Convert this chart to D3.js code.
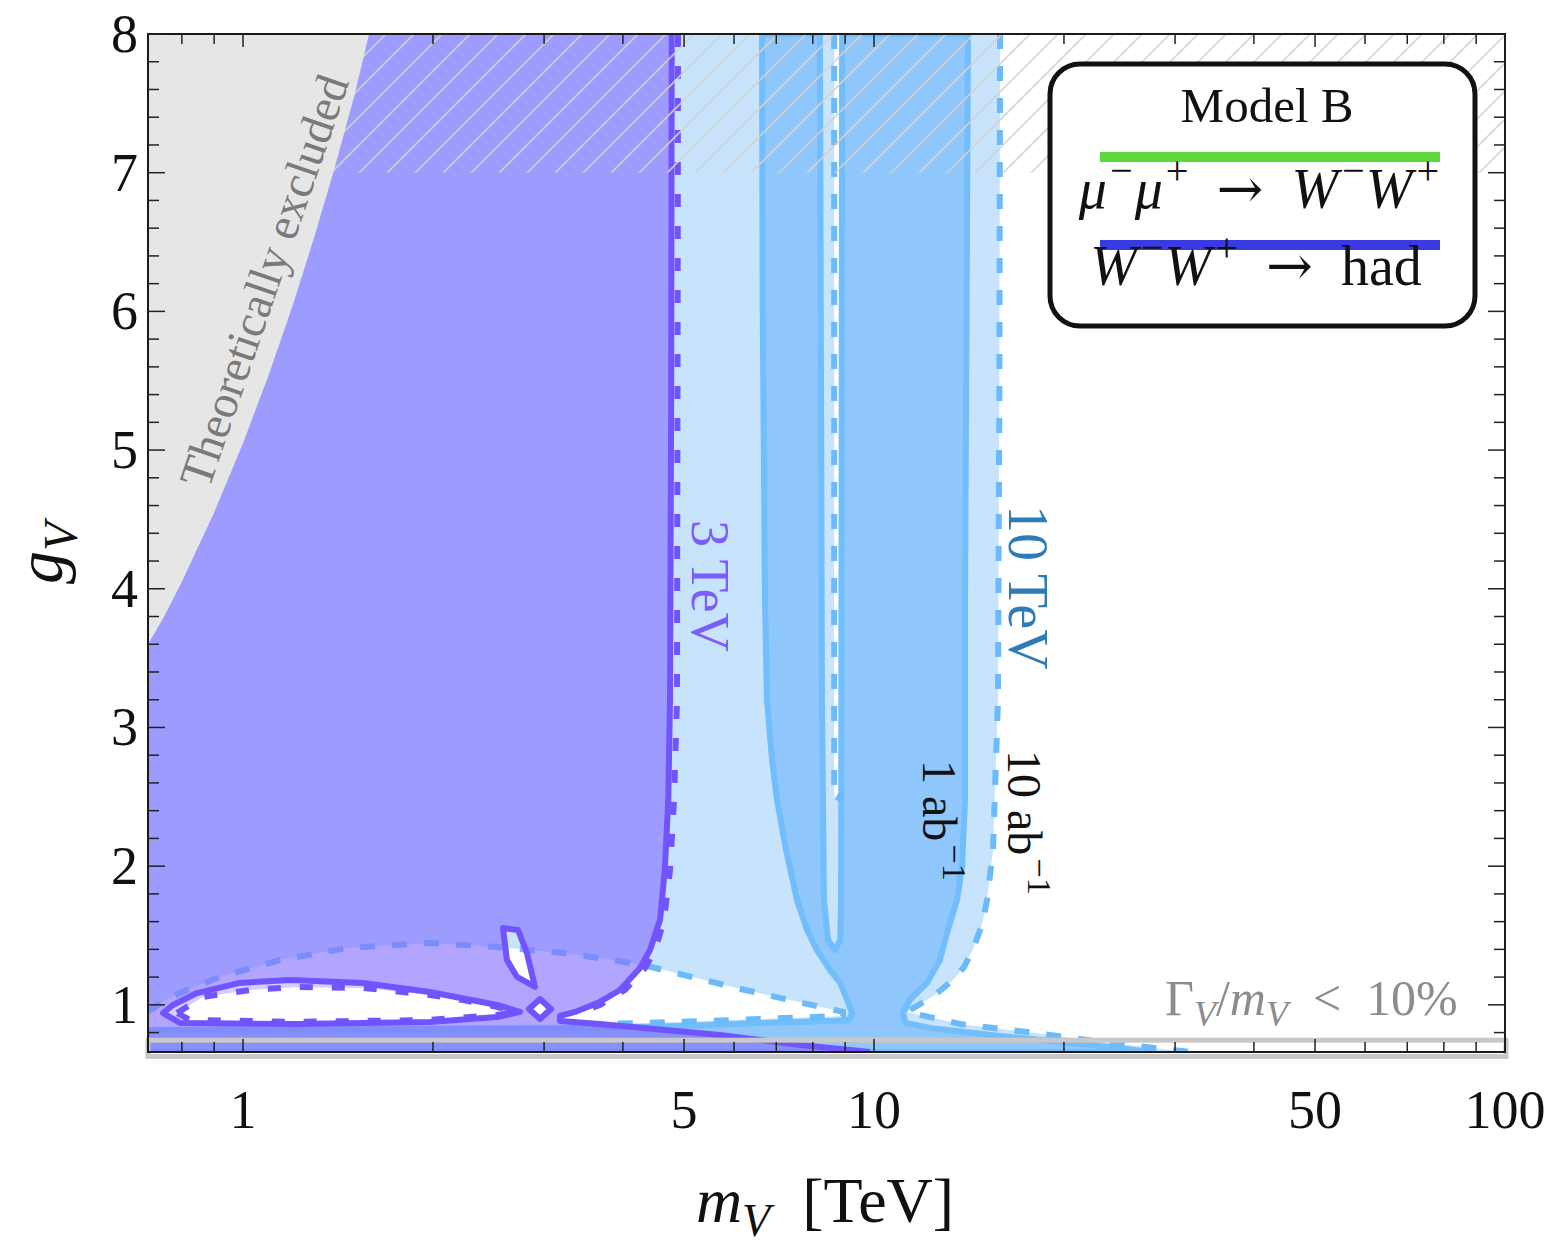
<!DOCTYPE html>
<html>
<head>
<meta charset="utf-8">
<script src="https://cdn.jsdelivr.net/npm/d3@7"></script>
<style>
  body { margin: 0; background: #fff; }
  svg { display: block; }
  text { font-family: "Liberation Serif", "DejaVu Serif", serif; }
</style>
</head>
<body>
<div id="chart"></div>
<script>
// ---- axes ----
const xDomain = [0.707, 100];
const yDomain = [0.66, 8];
const xMajorTicks = [1, 5, 10, 50, 100];
const xMinorTicks = [0.8, 0.9, 2, 3, 4, 6, 7, 8, 9, 20, 30, 40, 60, 70, 80, 90];
const yMajorTicks = [1, 2, 3, 4, 5, 6, 7, 8];
const hatchBand = [7, 8];          // g_V range with hatching
const widthLimit = 0.745;          // Gamma_V / m_V < 10% line

// ---- regions, [m_V (TeV), g_V] ----
const theoryEdge = [[0.707, 3.60], [0.75, 3.80], [0.80, 4.05], [0.90, 4.55], [1.00, 5.05], [1.10, 5.55],
  [1.20, 6.05], [1.30, 6.55], [1.40, 7.05], [1.50, 7.55], [1.584, 8.0]];

// 10 TeV, 10 ab^-1 (light blue)
const lb10Region = [[0.707, 8], [8.648, 8], [8.648, 2.50], [8.866, 2.50], [8.866, 8], [15.84, 8],
  [15.80, 5.36], [15.72, 3.20], [15.44, 2.12], [15.11, 1.76], [14.83, 1.576], [14.35, 1.40], [13.89, 1.273],
  [13.34, 1.18], [12.72, 1.10], [12.13, 1.035], [11.28, 0.949],
  [13.69, 0.862], [17.99, 0.797], [23.66, 0.725], [31.7, 0.66],
  [0.707, 0.66], [0.707, 0.840],
  [1.773, 0.848], [3.678, 0.862], [4.927, 0.877], [6.597, 0.898], [8.93, 0.920],
  [8.93, 0.949], [6.244, 1.107], [4.367, 1.280], [3.858, 1.323], [3.215, 1.374], [2.526, 1.417], [1.978, 1.446],
  [1.461, 1.410], [1.145, 1.323], [0.919, 1.201], [0.815, 1.107], [0.752, 1.035], [0.707, 0.949]];
const lbDashSlit = [[8.648, 8], [8.648, 2.52], [8.757, 2.47], [8.866, 2.52]];
const lbDashRight = [[15.84, 8], [15.80, 5.36], [15.72, 3.20], [15.44, 2.12], [15.11, 1.76], [14.83, 1.576],
  [14.35, 1.40], [13.89, 1.273], [13.34, 1.18], [12.72, 1.10], [12.13, 1.035], [11.28, 0.949],
  [13.69, 0.862], [17.99, 0.797], [23.66, 0.725], [31.7, 0.66]];
const lbDashLow = [[0.707, 0.949], [0.752, 1.035], [0.815, 1.107], [0.919, 1.201], [1.145, 1.323], [1.461, 1.410],
  [1.978, 1.446], [2.526, 1.417], [3.215, 1.374], [3.858, 1.323], [4.367, 1.280], [6.244, 1.107], [8.93, 0.949],
  [8.93, 0.920], [6.597, 0.898], [4.927, 0.877], [3.678, 0.862]];

// 10 TeV, 1 ab^-1 (medium blue)
const mb1Region = [[6.645, 8], [8.21, 8], [8.27, 3.20], [8.33, 1.756], [8.455, 1.468], [8.675, 1.395], [8.84, 1.468],
  [8.87, 1.756], [8.90, 8], [14.09, 8],
  [13.94, 3.919], [13.94, 2.477], [13.79, 1.994], [13.54, 1.756], [13.05, 1.518], [12.72, 1.323], [12.13, 1.158],
  [11.40, 1.035], [11.11, 0.941], [11.24, 0.869],
  [12.27, 0.833], [15.84, 0.776], [23.66, 0.696], [27.38, 0.66],
  [0.707, 0.66], [0.707, 0.819], [3.678, 0.833], [4.927, 0.848], [6.597, 0.869], [8.70, 0.885], [9.129, 0.891],
  [9.228, 0.941], [9.065, 1.035], [8.84, 1.158], [8.516, 1.251], [8.122, 1.395], [7.831, 1.540], [7.55, 1.756],
  [7.253, 2.117], [7.019, 2.477], [6.892, 2.765], [6.767, 3.198], [6.718, 3.919], [6.66, 6.08]];

// 3 TeV, 1 ab^-1 (purple) and its holes
const p3Region = [[0.707, 8], [4.78, 8], [4.77, 5.36], [4.75, 3.198], [4.72, 2.477], [4.66, 1.972], [4.58, 1.612],
  [4.415, 1.395], [4.257, 1.266], [3.958, 1.107], [3.678, 1.021], [3.359, 0.949], [3.179, 0.920], [3.18, 0.884],
  [3.678, 0.862], [5.70, 0.783], [7.63, 0.711], [9.86, 0.66], [0.707, 0.66]];
const p3Loop = [[0.7468, 0.941], [0.7745, 0.999], [0.8454, 1.085], [0.989, 1.158], [1.187, 1.179], [1.549, 1.158],
  [1.978, 1.093], [2.526, 0.999], [2.748, 0.949], [2.526, 0.912], [1.978, 0.877], [1.218, 0.862], [0.795, 0.869]];
const p3Diamond = [[2.955, 1.042], [3.076, 0.970], [2.955, 0.898], [2.839, 0.970]];
const p3Sliver = [[2.582, 1.554], [2.728, 1.540], [2.818, 1.374], [2.902, 1.129], [2.718, 1.201], [2.620, 1.323]];
// 3 TeV, 10 ab^-1 (dashed purple)
const p3DashEdge = [[4.891, 8], [4.873, 3.198], [4.82, 2.477], [4.75, 1.972], [4.647, 1.612], [4.498, 1.395],
  [4.336, 1.266], [4.03, 1.107], [3.678, 0.999], [3.359, 0.934]];
const p3LoopDash = [[0.786, 0.941], [0.864, 1.057], [1.026, 1.107], [1.218, 1.129], [1.549, 1.122], [1.978, 1.071],
  [2.231, 1.035], [2.526, 0.985], [2.698, 0.949], [2.526, 0.927], [1.978, 0.891], [1.218, 0.877], [0.824, 0.891]];

// ---- canvas ----
const W = 1553, H = 1251;
const plotBox = { left: 148, right: 1505, top: 34, bottom: 1052 };

const svg = d3.select("#chart").append("svg").attr("width", W).attr("height", H);

const x = d3.scaleLog().domain(xDomain).range([plotBox.left, plotBox.right]);
const y = d3.scaleLinear().domain(yDomain).range([plotBox.bottom, plotBox.top]);

const line = d3.line().x(d => x(d[0])).y(d => y(d[1]));
const ring = pts => line(pts) + "Z";

const defs = svg.append("defs");
defs.append("clipPath").attr("id", "plot-clip").append("rect")
  .attr("x", plotBox.left).attr("y", plotBox.top)
  .attr("width", plotBox.right - plotBox.left).attr("height", plotBox.bottom - plotBox.top);

const hatch = defs.append("pattern").attr("id", "hatch")
  .attr("patternUnits", "userSpaceOnUse").attr("width", 28).attr("height", 28);
hatch.append("path")
  .attr("d", "M-7,7 L7,-7 M0,28 L28,0 M21,35 L35,21")
  .attr("stroke", "#d2d2d2").attr("stroke-width", 1.7).attr("stroke-opacity", 0.9);

const plot = svg.append("g").attr("clip-path", "url(#plot-clip)");

// light blue: 10 TeV, 10 ab^-1
plot.append("path").attr("d", ring(lb10Region)).attr("fill", "#c8e4fc");

// medium blue: 10 TeV, 1 ab^-1
plot.append("path").attr("d", ring(mb1Region))
  .attr("fill", "#8fc7fc").attr("stroke", "#72bdfc").attr("stroke-width", 6).attr("stroke-linejoin", "round");

// dashed light-blue contours
[lbDashSlit, lbDashRight, lbDashLow].forEach(pts => {
  plot.append("path").attr("d", line(pts)).attr("fill", "none")
    .attr("stroke", "#6cbaf9").attr("stroke-width", 6).attr("stroke-dasharray", "15,17");
});

// purple: 3 TeV, 1 ab^-1
const purpleFill = "rgba(132,113,255,0.63)";
const purpleLine = "#7254ff";
plot.append("path")
  .attr("d", ring(p3Region) + ring(p3Loop) + ring(p3Diamond) + ring(p3Sliver))
  .attr("fill-rule", "evenodd").attr("fill", purpleFill);
plot.append("path")
  .attr("d", ring(p3Loop) + ring(p3LoopDash))
  .attr("fill-rule", "evenodd").attr("fill", "rgba(132,113,255,0.35)");

[line(p3Region.slice(1, -1)), ring(p3Loop), ring(p3Diamond), ring(p3Sliver)].forEach(d => {
  plot.append("path").attr("d", d).attr("fill", "none")
    .attr("stroke", purpleLine).attr("stroke-width", 6).attr("stroke-linejoin", "round");
});
[line(p3DashEdge), ring(p3LoopDash)].forEach(d => {
  plot.append("path").attr("d", d).attr("fill", "none")
    .attr("stroke", purpleLine).attr("stroke-width", 6).attr("stroke-dasharray", "13,19");
});

// hatched band g_V > 7
plot.append("rect")
  .attr("x", x(xDomain[0])).attr("y", y(hatchBand[1]))
  .attr("width", x(xDomain[1]) - x(xDomain[0])).attr("height", y(hatchBand[0]) - y(hatchBand[1]))
  .attr("fill", "url(#hatch)");

// theoretically excluded
plot.append("path")
  .attr("d", ring(theoryEdge.concat([[xDomain[0], yDomain[1]]])))
  .attr("fill", "#e6e6e6");

// width limit band
svg.append("rect")
  .attr("x", plotBox.left).attr("y", y(widthLimit))
  .attr("width", plotBox.right - plotBox.left + 1).attr("height", plotBox.bottom + 4.5 - y(widthLimit))
  .attr("fill", "none").attr("stroke", "#c8c8c8").attr("stroke-width", 5);

// frame
svg.append("rect")
  .attr("x", plotBox.left).attr("y", plotBox.top)
  .attr("width", plotBox.right - plotBox.left).attr("height", plotBox.bottom - plotBox.top)
  .attr("fill", "none").attr("stroke", "#1a1a1a").attr("stroke-width", 2);

// ticks
const ticks = svg.append("g").attr("stroke", "#222").attr("stroke-width", 1.5);
const xTick = (v, len) => {
  ticks.append("line").attr("x1", x(v)).attr("x2", x(v)).attr("y1", plotBox.bottom).attr("y2", plotBox.bottom - len);
  ticks.append("line").attr("x1", x(v)).attr("x2", x(v)).attr("y1", plotBox.top).attr("y2", plotBox.top + len);
};
const yTick = (v, len) => {
  ticks.append("line").attr("y1", y(v)).attr("y2", y(v)).attr("x1", plotBox.left).attr("x2", plotBox.left + len);
  ticks.append("line").attr("y1", y(v)).attr("y2", y(v)).attr("x1", plotBox.right).attr("x2", plotBox.right - len);
};
xMajorTicks.forEach(v => xTick(v, 13));
xMinorTicks.forEach(v => xTick(v, 10));
yMajorTicks.forEach(v => yTick(v, 17));
d3.range(0.8, 8, 0.2).filter(v => Math.abs(v - Math.round(v)) > 0.01).forEach(v => yTick(v, 11));

// tick labels
svg.append("g").selectAll("text").data(xMajorTicks).join("text")
  .attr("x", d => x(d)).attr("y", 1128).attr("text-anchor", "middle")
  .attr("font-size", 54).attr("fill", "#111").text(d => d);
svg.append("g").selectAll("text").data(yMajorTicks).join("text")
  .attr("x", 138).attr("y", d => y(d) + 18).attr("text-anchor", "end")
  .attr("font-size", 54).attr("fill", "#111").text(d => d);

// rich text helper: runs of {t, it, sup, sub, font, dx}
function addRuns(sel, runs, fs) {
  let cur = 0;
  runs.forEach(r => {
    const shift = r.sup ? -0.42 * fs : r.sub ? 0.22 * fs : 0;
    const ts = sel.append("tspan").text(r.t).attr("dy", shift - cur);
    cur = shift;
    if (r.sup || r.sub) ts.attr("font-size", 0.72 * fs);
    if (r.it) ts.attr("font-style", "italic");
    if (r.font) ts.style("font-family", r.font);
    if (r.dx) ts.attr("dx", r.dx);
  });
}
const arrowFont = "'DejaVu Serif', serif";

// axis titles
const gTitle = svg.append("text").attr("transform", "translate(62,553) rotate(-90)")
  .attr("text-anchor", "middle").attr("font-size", 66).attr("fill", "#111");
addRuns(gTitle, [{ t: "g", it: true }, { t: "V", it: true, sub: true }], 66);

const mTitle = svg.append("text").attr("x", 825).attr("y", 1222)
  .attr("text-anchor", "middle").attr("font-size", 64).attr("fill", "#111");
addRuns(mTitle, [{ t: "m", it: true }, { t: "V", it: true, sub: true }, { t: "\u2002[TeV]" }], 64);

// in-plot labels
svg.append("text").attr("transform", "translate(279,286) rotate(-71)")
  .attr("text-anchor", "middle").attr("font-size", 47).attr("fill", "#7a7a7a")
  .text("Theoretically excluded");

svg.append("text").attr("transform", "translate(692,520) rotate(90)")
  .attr("font-size", 54).attr("fill", "#7b5cfc").text("3 TeV");
svg.append("text").attr("transform", "translate(1009,505) rotate(90)")
  .attr("font-size", 56).attr("fill", "#2d7cb8").text("10 TeV");

const lab1 = svg.append("text").attr("transform", "translate(923,760) rotate(90)")
  .attr("font-size", 48).attr("fill", "#111");
addRuns(lab1, [{ t: "1 ab" }, { t: "\u22121", sup: true, dx: 3 }], 48);
const lab10 = svg.append("text").attr("transform", "translate(1008,750) rotate(90)")
  .attr("font-size", 48).attr("fill", "#111");
addRuns(lab10, [{ t: "10 ab" }, { t: "\u22121", sup: true, dx: 3 }], 48);

const gam = svg.append("text").attr("x", 1165).attr("y", 1015)
  .attr("font-size", 50).attr("fill", "#8c8c8c");
addRuns(gam, [{ t: "\u0393" }, { t: "V", it: true, sub: true }, { t: "/" }, { t: "m", it: true },
  { t: "V", it: true, sub: true }, { t: "\u2002<\u200210%" }], 50);

// legend
const leg = svg.append("g");
leg.append("rect").attr("x", 1050).attr("y", 64).attr("width", 425).attr("height", 262)
  .attr("rx", 30).attr("fill", "#fff").attr("stroke", "#111").attr("stroke-width", 5);
leg.append("text").attr("x", 1267).attr("y", 122).attr("text-anchor", "middle")
  .attr("font-size", 49).attr("fill", "#111").text("Model B");
leg.append("line").attr("x1", 1100).attr("x2", 1440).attr("y1", 157).attr("y2", 157)
  .attr("stroke", "#5dd83b").attr("stroke-width", 10);
const l1 = leg.append("text").attr("x", 1259).attr("y", 208).attr("text-anchor", "middle")
  .attr("font-size", 56).attr("fill", "#111");
addRuns(l1, [{ t: "\u03bc", it: true }, { t: "\u2212", sup: true, dx: 3 }, { t: "\u03bc", it: true, dx: 2 },
  { t: "+", sup: true, dx: 3 }, { t: "\u2002" }, { t: "\u2192", font: arrowFont }, { t: "\u2002" },
  { t: "W", it: true }, { t: "\u2212", sup: true, dx: 4 }, { t: "W", it: true, dx: 1 }, { t: "+", sup: true, dx: 4 }], 56);
leg.append("line").attr("x1", 1100).attr("x2", 1440).attr("y1", 245).attr("y2", 245)
  .attr("stroke", "#3a3ae3").attr("stroke-width", 10);
const l2 = leg.append("text").attr("x", 1256).attr("y", 285).attr("text-anchor", "middle")
  .attr("font-size", 56).attr("fill", "#111");
addRuns(l2, [{ t: "W", it: true }, { t: "\u2212", sup: true, dx: 4 }, { t: "W", it: true, dx: 1 },
  { t: "+", sup: true, dx: 4 }, { t: "\u2002" }, { t: "\u2192", font: arrowFont }, { t: "\u2002had" }], 56);
</script>
</body>
</html>
